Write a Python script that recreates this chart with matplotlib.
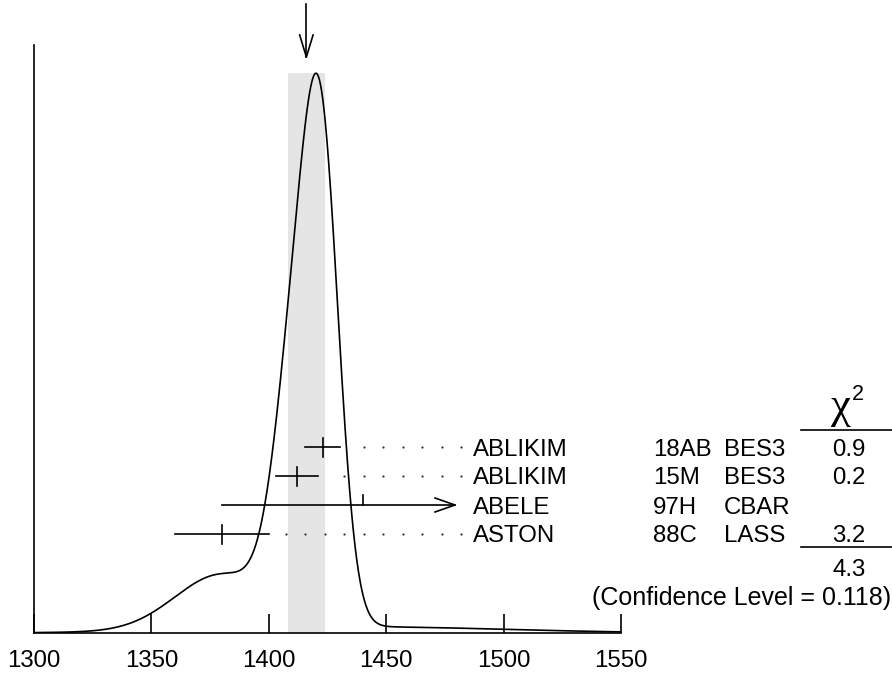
#Imported modules
import numpy as np
import matplotlib
matplotlib.use('Agg')
from matplotlib import pyplot as plt

#Measurements (value, error), top row first
authors = ['ABLIKIM', 'ABLIKIM', 'ABELE', 'ASTON']
docs = ['18AB', '15M', '97H', '88C']
techs = ['BES3', 'BES3', 'CBAR', 'LASS']
values = [1423.0, 1412.0, 1440.0, 1380.0]
errors = [7.5, 9.0, 60.0, 20.0]
chi2_text = ['0.9', '0.2', '', '3.2']
chi2_total = '4.3'
conf_level = '0.118'

#Weighted average and its (scaled) error
avg_value = 1416.0
avg_error = 8.0

x_ticks = [1300, 1350, 1400, 1450, 1500, 1550]

plt.rcParams['font.family'] = ['Liberation Sans', 'DejaVu Sans']
FS = 17.3

W, H = 892, 673
fig = plt.figure(figsize=(W / 100, H / 100), dpi=100)
ax = fig.add_axes([34 / W, 40 / H, 587 / W, 588 / H])
ax.set_xlim(1300, 1550)
ax.set_ylim(0, 1)

#pixel helpers (pixels measured from top-left of the figure)
def fx(x):
    return x / W

def fy(y):
    return 1 - y / H

px_x = 587 / 250.0   # pixels per MeV
px_y = 588.0         # pixels per axes unit

#Ideogram: one gaussian per measurement, area ~ 1/sigma
xs = np.linspace(1300, 1550, 1001)
ideo = np.zeros_like(xs)
for v, e in zip(values, errors):
    ideo += (1.0 / e**2) * np.exp(-0.5 * ((xs - v) / e) ** 2)
peak_h = 0.952
ideo = ideo / ideo.max() * peak_h

#shaded band for the average
ax.fill_between([avg_value - avg_error, avg_value + avg_error], 0, peak_h,
                color='#e5e5e5', lw=0, zorder=0)
ax.plot(xs, ideo, color='black', lw=1.2, zorder=3)

#arrow pointing at the average, above the plot
top_y = (633 - 4) / px_y
tip_y = (633 - 57) / px_y
arm_y = (633 - 35) / px_y
ax.plot([avg_value, avg_value], [top_y, tip_y], color='black', lw=1.2, clip_on=False)
ax.plot([avg_value - 6.7 / px_x, avg_value, avg_value + 6.7 / px_x],
        [arm_y, tip_y, arm_y], color='black', lw=1.2, clip_on=False)

#rows of measurements
row_px = [447, 476, 505, 534]
dot_end = 1300 + (461.5 - 34) / px_x
dot_step = 19.5 / px_x
arrow_tip = 1300 + (455 - 34) / px_x
for i in range(len(values)):
    v, e = values[i], errors[i]
    ry = (633 - row_px[i]) / px_y
    tick_h = 9.5 / px_y
    if v + e > arrow_tip:
        #error bar goes past the labels: draw an arrow
        ax.plot([v - e, arrow_tip], [ry, ry], color='black', lw=1.2, clip_on=False)
        ax.plot([arrow_tip - 20 / px_x, arrow_tip, arrow_tip - 20 / px_x],
                [ry + 7 / px_y, ry, ry - 7 / px_y], color='black', lw=1.2, clip_on=False)
        ax.plot([v, v], [ry, ry + 10 / px_y], color='black', lw=1.2, clip_on=False)
    else:
        ax.plot([v - e, v + e], [ry, ry], color='black', lw=1.2, clip_on=False)
        ax.plot([v, v], [ry - tick_h, ry + tick_h], color='black', lw=1.2, clip_on=False)
        dots = []
        d = dot_end
        while d > v + e + 5:
            dots.append(d)
            d -= dot_step
        ax.plot(dots, [ry] * len(dots), 'o', color='#333333', ms=1.6, mew=0, clip_on=False)
    base = row_px[i] + 8.5
    fig.text(fx(473), fy(base), authors[i], fontsize=FS, va='baseline', ha='left')
    fig.text(fx(653), fy(base), docs[i], fontsize=FS, va='baseline', ha='left')
    fig.text(fx(724), fy(base), techs[i], fontsize=FS, va='baseline', ha='left')
    if chi2_text[i]:
        fig.text(fx(849), fy(base), chi2_text[i], fontsize=FS, va='baseline', ha='center')

#chi2 column header and total
fig.text(fx(841), fy(418), '\u03c7', fontsize=32, va='baseline', ha='center',
         family=['Liberation Serif', 'DejaVu Serif'])
fig.text(fx(852), fy(400), '2', fontsize=15.5, va='baseline', ha='left')
fig.add_artist(plt.Line2D([fx(801), fx(892)], [fy(430), fy(430)], color='black', lw=1.2))
fig.add_artist(plt.Line2D([fx(801), fx(892)], [fy(547), fy(547)], color='black', lw=1.2))
fig.text(fx(849), fy(576.5), chi2_total, fontsize=FS, va='baseline', ha='center')
fig.text(fx(891), fy(605.5), '(Confidence Level = ' + conf_level + ')', fontsize=18,
         va='baseline', ha='right')

#axes styling
ax.spines['top'].set_visible(False)
ax.spines['right'].set_visible(False)
ax.spines['left'].set_linewidth(1.2)
ax.spines['bottom'].set_linewidth(1.2)
ax.set_xticks(x_ticks)
ax.set_xticklabels([str(t) for t in x_ticks], fontsize=FS)
ax.tick_params(axis='x', direction='in', length=14, width=1.2, pad=12)
ax.set_yticks([])

plt.savefig('out.png', dpi=100)
